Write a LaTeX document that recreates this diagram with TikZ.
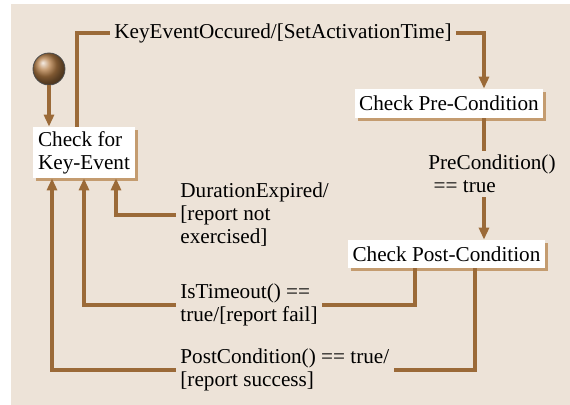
\documentclass[tikz,border=0pt]{standalone}
\usepackage{fontspec}
\setmainfont{Liberation Serif}
\usetikzlibrary{arrows.meta,shadows}
\definecolor{paper}{RGB}{237,227,216}
\definecolor{wire}{RGB}{155,106,56}
\definecolor{shade}{RGB}{196,156,112}
\definecolor{wood}{RGB}{180,125,70}

\begin{document}
\begin{tikzpicture}[x=0.5pt,y=-0.5pt,
  font=\fontsize{10.6}{11.5}\selectfont,
  state/.style={fill=white,inner sep=0pt,align=left,
    drop shadow={shadow xshift=1.5pt,shadow yshift=-1.5pt,fill=shade,opacity=1}},
  flow/.style={draw=wire,line width=1.6pt},
  flowarrow/.style={flow,-{Triangle[width=5pt,length=6pt]}},
  lbl/.style={inner sep=2pt,align=left,anchor=west}]
  % Background
  \fill[paper] (11,4) rectangle (570,405);
  \useasboundingbox (0,0) rectangle (570,405);

  % Initial state
  \node[circle,minimum size=16pt,inner sep=0pt,draw=black!70,thin,
    shading=ball,ball color=wood] (start) at (49,69) {};

  % States
  \node[state,minimum width=51pt,minimum height=25.5pt] (check) at (84,152.5)
    {Check for\\Key-Event};
  \node[state,minimum width=94pt,minimum height=14.5pt] (pre) at (449,103.5)
    {Check Pre-Condition};
  \node[state,minimum width=98.5pt,minimum height=14pt] (post) at (446.5,254)
    {Check Post-Condition};

  % Transition labels
  \node[lbl] (kelbl) at (110,33) {KeyEventOccured/[SetActivationTime]};
  \node[lbl] (prelbl) at (424,174) {PreCondition()\\\ == true};
  \node[lbl] (durlbl) at (176,215) {DurationExpired/\\\relax[report not\\exercised]};
  \node[lbl] (tolbl) at (176,305) {IsTimeout() ==\\true/[report fail]};
  \node[lbl] (pclbl) at (176,370) {PostCondition() == true/\\\relax[report success]};

  % Taps on the state boxes
  \coordinate (pretap) at ([xshift=17.5pt]pre.south);
  \coordinate (failtap) at ([xshift=-15.75pt]post.south);
  \coordinate (oktap) at ([xshift=14.25pt]post.south);

  % Transitions
  \draw[flowarrow] (start) -- (start |- check.north);
  \draw[flow] ([xshift=-3.5pt]check.north) |- (kelbl.west);
  \draw[flowarrow] (kelbl.east) -| ([xshift=17.5pt]pre.north);
  \draw[flow] (pretap) -- (pretap |- prelbl.north);
  \draw[flowarrow] (pretap |- prelbl.south) -- (pretap |- post.north);
  \draw[flow] (failtap) |- (tolbl.east);
  \draw[flowarrow] (tolbl.west) -| (check.south);
  \draw[flow] (oktap) |- (pclbl.east);
  \draw[flowarrow] (pclbl.west) -| ([xshift=-16pt]check.south);
  \draw[flowarrow] (durlbl.west) -| ([xshift=16pt]check.south);
\end{tikzpicture}
\end{document}
